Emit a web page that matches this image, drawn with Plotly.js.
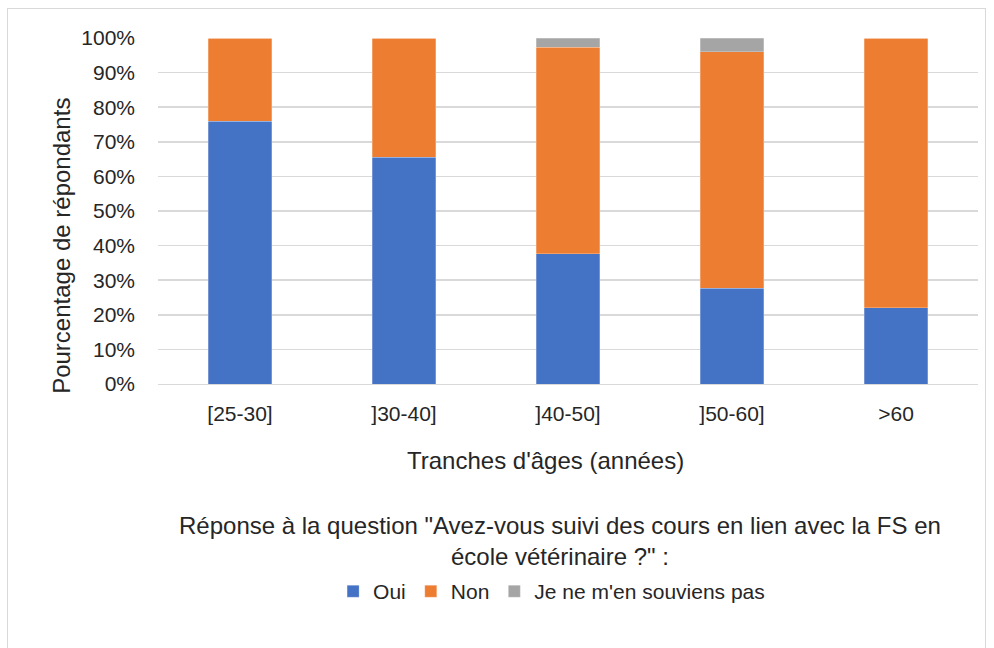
<!DOCTYPE html>
<html><head><meta charset="utf-8">
<script src="https://cdn.plot.ly/plotly-3.0.1.min.js"></script>
<style>
html,body{margin:0;padding:0;background:#fff;}
#frame{position:absolute;left:7px;top:8px;width:979px;height:660px;border:1px solid #d9d9d9;box-sizing:border-box;}
#chart{position:absolute;left:0;top:0;width:994px;height:648px;}
</style>
</head><body>
<div id="frame"></div>
<div id="chart"></div>
<script>
var categories = ["[25-30]", "]30-40]", "]40-50]", "]50-60]", ">60"];
var oui = [0.759, 0.656, 0.377, 0.277, 0.221];
var non = [0.241, 0.344, 0.596, 0.683, 0.779];
var nsp = [0.0, 0.0, 0.027, 0.040, 0.0];
var seriesNames = ["Oui", "Non", "Je ne m'en souviens pas"];
var yTickVals = [0, 0.1, 0.2, 0.3, 0.4, 0.5, 0.6, 0.7, 0.8, 0.9, 1.0];
var yTickText = ["0%", "10%", "20%", "30%", "40%", "50%", "60%", "70%", "80%", "90%", "100%"];

var FONT = "Liberation Sans, Arial, sans-serif";
var colors = ["#4472C4", "#ED7D31", "#A5A5A5"];
var vals = [oui, non, nsp];
var traces = vals.map(function(v, i){
  return {type: "bar", x: categories, y: v, name: seriesNames[i], width: 0.39,
    marker: {color: colors[i], line: {color: "rgba(255,255,255,0.5)", width: 0.5}},
    hoverinfo: "skip"};
});
var layout = {
  width: 994, height: 648,
  paper_bgcolor: "rgba(0,0,0,0)", plot_bgcolor: "rgba(0,0,0,0)",
  barmode: "stack",
  margin: {l: 158, r: 16, t: 38, b: 264},
  font: {family: FONT, size: 21, color: "#262626"},
  xaxis: {type: "category", showgrid: false, zeroline: false, showline: true, linecolor: "#d9d9d9", linewidth: 1,
    ticks: "", tickfont: {size: 21, color: "#262626"}, ticklabelstandoff: 11},
  yaxis: {range: [0, 1.0], tickvals: yTickVals, ticktext: yTickText, showgrid: true, gridcolor: "#d9d9d9", gridwidth: 1.5,
    zeroline: false, showline: false, ticks: "", tickfont: {size: 21, color: "#262626"}, ticklabelstandoff: 22},
  showlegend: true,
  legend: {orientation: "h", x: 0.48, xanchor: "center", y: -0.6, yanchor: "middle",
    font: {size: 21, color: "#262626"}, itemwidth: 30, traceorder: "normal", tracegroupgap: 0},
  annotations: [
    {text: "Tranches d'âges (années)", xref: "paper", yref: "paper", x: 0.472, y: -0.22, xanchor: "center", yanchor: "middle", showarrow: false, font: {size: 24, color: "#262626"}},
    {text: "Pourcentage de répondants", xref: "paper", yref: "paper", x: -0.118, y: 0.40, xanchor: "center", yanchor: "middle", textangle: -90, showarrow: false, font: {size: 24, color: "#262626"}},
    {text: "Réponse à la question \"Avez-vous suivi des cours en lien avec la FS en<br>école vétérinaire ?\" :", xref: "paper", yref: "paper", x: 0.49, y: -0.455, xanchor: "center", yanchor: "middle", showarrow: false, align: "center", font: {size: 24, color: "#262626"}}
  ]
};
Plotly.newPlot("chart", traces, layout, {staticPlot: true, displayModeBar: false});
</script>
</body></html>
